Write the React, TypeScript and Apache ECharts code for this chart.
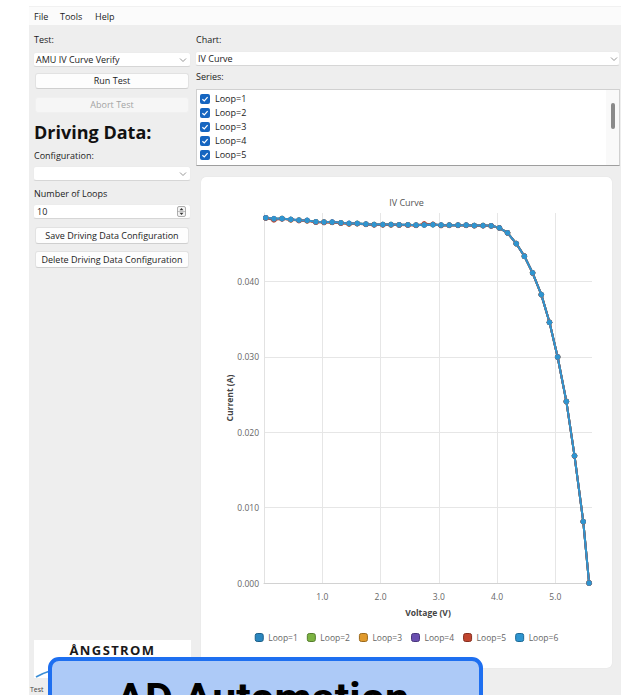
import React, { useEffect, useRef } from "react";
import * as echarts from "echarts";

// ---------- data ----------
const seriesNames = ["Loop=1", "Loop=2", "Loop=3", "Loop=4", "Loop=5", "Loop=6"];
const loopColors = ["#2a86bf", "#7cb342", "#e09a2c", "#6a4fb0", "#c0452f", "#2e95d0"];
const loopBorders = ["#1d5f88", "#557d2d", "#9c6a1c", "#4a367c", "#862f20", "#1d6a96"];
const xTicks = ["1.0", "2.0", "3.0", "4.0", "5.0"];
const yTicks = ["0.000", "0.010", "0.020", "0.030", "0.040"];

const voltage = [
  0.03, 0.17, 0.31, 0.46, 0.6, 0.74, 0.89, 1.03, 1.17, 1.32, 1.46, 1.6, 1.75, 1.89,
  2.04, 2.18, 2.32, 2.47, 2.61, 2.75, 2.9, 3.04, 3.18, 3.33, 3.47, 3.61, 3.76, 3.9,
  4.04, 4.18, 4.33, 4.47, 4.61, 4.76, 4.9, 5.04, 5.19, 5.33, 5.48, 5.58,
];

// knee / drop-off region (shared by every loop), voltages 4.04 .. 5.58
const kneeCurrent = [
  0.04713, 0.04647, 0.04505, 0.04336, 0.04116, 0.03827, 0.03459, 0.02999, 0.02409,
  0.01688, 0.00815, 0.0,
];

// flat region per loop, voltages 0.03 .. 3.90
const loop1Flat = [
  0.04848, 0.04835, 0.04834, 0.04826, 0.04813, 0.04812, 0.04795, 0.04788, 0.04790,
  0.04779, 0.04772, 0.04770, 0.04763, 0.04756, 0.04758, 0.04756, 0.04754, 0.04752,
  0.04750, 0.04752, 0.04756, 0.04750, 0.04748, 0.04750, 0.04748, 0.04745, 0.04743, 0.04741,
];
const loop2Flat = [
  0.04844, 0.04830, 0.04836, 0.04822, 0.04816, 0.04809, 0.04794, 0.04790, 0.04787,
  0.04781, 0.04770, 0.04772, 0.04761, 0.04758, 0.04756, 0.04758, 0.04752, 0.04754,
  0.04748, 0.04754, 0.04755, 0.04748, 0.04750, 0.04748, 0.04750, 0.04743, 0.04745, 0.04739,
];
const loop3Flat = [
  0.04845, 0.04826, 0.04838, 0.04820, 0.04815, 0.04810, 0.04790, 0.04791, 0.04786,
  0.04778, 0.04766, 0.04770, 0.04760, 0.04755, 0.04757, 0.04754, 0.04753, 0.04751,
  0.04749, 0.04756, 0.04758, 0.04747, 0.04749, 0.04749, 0.04747, 0.04744, 0.04744, 0.04740,
];
const loop4Flat = [
  0.04847, 0.04831, 0.04835, 0.04823, 0.04814, 0.04811, 0.04792, 0.04789, 0.04789,
  0.04780, 0.04771, 0.04771, 0.04762, 0.04757, 0.04757, 0.04757, 0.04753, 0.04753,
  0.04749, 0.04753, 0.04757, 0.04749, 0.04749, 0.04749, 0.04749, 0.04744, 0.04744, 0.04740,
];
const loop5Flat = [
  0.04843, 0.04818, 0.04833, 0.04822, 0.04808, 0.04806, 0.04786, 0.04784, 0.04785,
  0.04773, 0.04766, 0.04768, 0.04758, 0.04754, 0.04752, 0.04753, 0.04750, 0.04749,
  0.04745, 0.04766, 0.04760, 0.04744, 0.04746, 0.04746, 0.04746, 0.04742, 0.04741, 0.04738,
];
const loop6Flat = [
  0.04846, 0.04833, 0.04837, 0.04824, 0.04815, 0.04811, 0.04793, 0.04789, 0.04789,
  0.0478, 0.04771, 0.04771, 0.04762, 0.04757, 0.04757, 0.04757, 0.04753, 0.04753,
  0.04749, 0.04753, 0.04757, 0.04749, 0.04749, 0.04749, 0.04749, 0.04744, 0.04744, 0.0474,
];
const loopFlats = [loop1Flat, loop2Flat, loop3Flat, loop4Flat, loop5Flat, loop6Flat];

const FONT = "'Open Sans', 'Noto Sans', sans-serif";

function Chart() {
  const ref = useRef<HTMLDivElement>(null);
  useEffect(() => {
    if (!ref.current) return;
    const chart = echarts.init(ref.current, undefined, { renderer: "svg" });
    const isTick = (v: number, step: number) => Math.abs(v / step - Math.round(v / step)) < 1e-6;
    chart.setOption({
      animation: false,
      color: loopColors,
      textStyle: { fontFamily: FONT },
      title: {
        text: "IV Curve",
        left: "center",
        top: 16,
        textStyle: { fontSize: 9, fontWeight: "normal", color: "#555", fontFamily: FONT },
      },
      grid: { left: 63, right: 20, top: 36, bottom: 85 },
      legend: {
        data: seriesNames.map((n, k) => ({
          name: n,
          itemStyle: { color: loopColors[k], borderColor: loopBorders[k], borderWidth: 1 },
        })),
        bottom: 21,
        left: "center",
        icon: "roundRect",
        itemWidth: 8,
        itemHeight: 8,
        itemGap: 9,
        textStyle: { fontSize: 8.5, color: "#666", fontFamily: FONT },
      },
      xAxis: {
        type: "value",
        min: 0,
        max: 5.63,
        interval: 1,
        name: "Voltage (V)",
        nameLocation: "middle",
        nameGap: 25,
        nameMoveOverlap: false,
        nameTextStyle: { fontWeight: "bold", fontSize: 8.5, color: "#444", fontFamily: FONT },
        axisLine: { show: true, lineStyle: { color: "#d2d2d2" } },
        axisTick: { show: false },
        axisLabel: {
          color: "#666",
          fontSize: 8.5,
          margin: 9,
          fontFamily: FONT,
          formatter: (v: number) => {
            if (!isTick(v, 1)) return "";
            const s = v.toFixed(1);
            return xTicks.includes(s) ? s : "";
          },
        },
        splitLine: { show: true, showMaxLine: false, lineStyle: { color: "#e6e6e6" } },
      },
      yAxis: {
        type: "value",
        min: 0,
        max: 0.0491,
        interval: 0.01,
        name: "Current (A)",
        nameLocation: "middle",
        nameGap: 30,
        nameMoveOverlap: false,
        nameTextStyle: { fontWeight: "bold", fontSize: 8.5, color: "#444", fontFamily: FONT },
        axisLine: { show: true, lineStyle: { color: "#e2e2e2" } },
        axisTick: { show: false },
        axisLabel: {
          color: "#666",
          fontSize: 8.5,
          margin: 5,
          fontFamily: FONT,
          formatter: (v: number) => {
            if (!isTick(v, 0.01)) return "";
            const s = v.toFixed(3);
            return yTicks.includes(s) ? s : "";
          },
        },
        splitLine: { show: true, showMaxLine: false, lineStyle: { color: "#e6e6e6" } },
      },
      series: seriesNames.map((name, k) => {
        const cur = loopFlats[k].concat(kneeCurrent);
        return {
          name,
          type: "line",
          symbol: "circle",
          symbolSize: 5.5,
          showSymbol: true,
          lineStyle: { width: 2, color: loopColors[k] },
          itemStyle: { color: loopColors[k] },
          data: voltage.map((v, i) => [v, cur[i]]),
        };
      }),
    });
    return () => chart.dispose();
  }, []);
  return (
    <div
      ref={ref}
      style={{ position: "absolute", left: 201, top: 177, width: 411, height: 491 }}
    />
  );
}

type TP = { x: number; y: number; h?: number; size?: number; color?: string; bold?: boolean; children: React.ReactNode; w?: number; center?: boolean };
function T({ x, y, h = 12, size = 9, color = "#1b1b1b", bold, children, w, center }: TP) {
  return (
    <div
      style={{
        position: "absolute",
        left: x,
        top: y - h / 2,
        height: h,
        lineHeight: h + "px",
        width: w,
        textAlign: center ? "center" : "left",
        fontSize: size,
        fontWeight: bold ? 700 : 400,
        color,
        whiteSpace: "nowrap",
        fontFamily: FONT,
      }}
    >
      {children}
    </div>
  );
}

function Box({ x, y, w, h, bg = "#fff", border = "1px solid #e4e4e4", radius = 3, extra = {} as React.CSSProperties, children = null as React.ReactNode }) {
  return (
    <div
      style={{
        position: "absolute",
        left: x,
        top: y,
        width: w,
        height: h,
        background: bg,
        border,
        borderRadius: radius,
        boxSizing: "border-box",
        ...extra,
      }}
    >
      {children}
    </div>
  );
}

function Chevron({ x, y }: { x: number; y: number }) {
  return (
    <svg style={{ position: "absolute", left: x, top: y }} width={8} height={6}>
      <polyline points="1,1.5 4,4.5 7,1.5" fill="none" stroke="#8a8a8a" strokeWidth={0.9} />
    </svg>
  );
}

function Check({ x, y }: { x: number; y: number }) {
  return (
    <svg style={{ position: "absolute", left: x, top: y }} width={10} height={10}>
      <rect x={0} y={0} width={10} height={10} rx={2} fill="#1565c0" />
      <polyline points="2.4,5.2 4.3,7 7.6,3.2" fill="none" stroke="#fff" strokeWidth={1.2} />
    </svg>
  );
}

function Button({ x, y, w, h, label, disabled }: { x: number; y: number; w: number; h: number; label: string; disabled?: boolean }) {
  return (
    <>
      <Box
        x={x}
        y={y}
        w={w}
        h={h}
        bg={disabled ? "#f6f6f6" : "#fdfdfd"}
        border={disabled ? "1px solid #f0f0f0" : "1px solid #e2e2e2"}
        extra={disabled ? {} : { borderBottom: "1px solid #cfcfcf" }}
      />
      <T x={x} y={y + h / 2} w={w} center color={disabled ? "#a3a3a3" : "#1b1b1b"}>
        {label}
      </T>
    </>
  );
}

export default function App() {
  const loops = ["Loop=1", "Loop=2", "Loop=3", "Loop=4", "Loop=5", "Loop=6"];
  return (
    <div
      style={{
        position: "fixed",
        left: 0,
        top: 0,
        width: 628,
        height: 695,
        overflow: "hidden",
        background: "#fff",
        fontFamily: FONT,
      }}
    >
      {/* app window */}
      <div style={{ position: "absolute", left: 29, top: 25, width: 592, height: 680, background: "#eeeeee" }} />
      <div style={{ position: "absolute", left: 29, top: 6, width: 592, height: 19, background: "#fbfbfb", borderTop: "1px solid #f1f1f1", boxSizing: "border-box" }} />
      <T x={34} y={17}>File</T>
      <T x={60} y={17}>Tools</T>
      <T x={95} y={17}>Help</T>

      {/* left panel */}
      <T x={34} y={40}>Test:</T>
      <Box x={33} y={52} w={158} h={15} border="1px solid #ececec" extra={{ borderBottom: "1px solid #d6d6d6" }} />
      <T x={36} y={59.5}>AMU IV Curve Verify</T>
      <Chevron x={179} y={57} />

      <Button x={35} y={73} w={154} h={16} label="Run Test" />
      <Button x={35} y={97} w={154} h={16} label="Abort Test" disabled />

      <T x={34} y={132} h={24} size={18} bold color="#111">Driving Data:</T>
      <T x={34} y={156}>Configuration:</T>
      <Box x={33} y={166} w={158} h={15} border="1px solid #ececec" extra={{ borderBottom: "1px solid #d6d6d6" }} />
      <Chevron x={179} y={171} />

      <T x={34} y={194}>Number of Loops</T>
      <Box x={33} y={204} w={158} h={15} border="1px solid #ececec" extra={{ borderBottom: "1px solid #d6d6d6" }} />
      <T x={37} y={212}>10</T>
      <svg style={{ position: "absolute", left: 177, top: 206 }} width={10} height={12}>
        <rect x={0.5} y={0.5} width={8} height={10} rx={1.5} fill="#f4f4f4" stroke="#9a9a9a" strokeWidth={0.8} />
        <line x1={0.5} y1={5.5} x2={8.5} y2={5.5} stroke="#9a9a9a" strokeWidth={0.6} />
        <polygon points="2.5,4.2 4.5,2 6.5,4.2" fill="#333" />
        <polygon points="2.5,6.8 4.5,9 6.5,6.8" fill="#333" />
      </svg>

      <Button x={35} y={227} w={154} h={17} label="Save Driving Data Configuration" />
      <Button x={35} y={251} w={154} h={17} label="Delete Driving Data Configuration" />

      {/* logo */}
      <Box x={34} y={640} w={157} h={38} border="none" radius={0} />
      <T x={34} y={650} w={157} h={16} center size={13} bold color="#1a1a1a">
        <span style={{ letterSpacing: 1.4 }}>ÅNGSTROM</span>
      </T>
      <svg style={{ position: "absolute", left: 34, top: 662 }} width={40} height={18}>
        <path d="M2 15 Q 14 8 36 4" fill="none" stroke="#3b8ed6" strokeWidth={1.6} />
      </svg>
      <T x={30} y={690} size={7} color="#444">Test</T>

      {/* right panel */}
      <T x={196} y={40}>Chart:</T>
      <Box x={195} y={51} w={425} h={15} border="1px solid #ececec" extra={{ borderBottom: "1px solid #d6d6d6" }} />
      <T x={198} y={58.5}>IV Curve</T>
      <Chevron x={610} y={56} />
      <T x={196} y={77}>Series:</T>

      <Box x={196} y={89} w={424} h={77} radius={0} border="1px solid #d0d0d0" extra={{ overflow: "hidden", borderBottom: "1px solid #9e9e9e" }}>
        {loops.map((l, i) => (
          <React.Fragment key={l}>
            <Check x={3} y={3.5 + i * 14.2} />
            <div
              style={{
                position: "absolute",
                left: 18,
                top: 2.5 + i * 14.2,
                height: 12,
                lineHeight: "12px",
                fontSize: 9,
                color: "#1b1b1b",
                fontFamily: FONT,
              }}
            >
              {l}
            </div>
          </React.Fragment>
        ))}
        <div style={{ position: "absolute", left: 409, top: 0, width: 14, height: 76, background: "#f9f9f9" }} />
        <div style={{ position: "absolute", left: 414, top: 13, width: 3.5, height: 26, background: "#8a8a8a", borderRadius: 2 }} />
      </Box>

      {/* chart card */}
      <Box x={201} y={177} w={411} h={491} radius={5} border="none" extra={{ boxShadow: "0 0 1px rgba(0,0,0,0.12)" }} />
      <Chart />

      {/* overlay banner */}
      <div
        style={{
          position: "absolute",
          left: 48,
          top: 657,
          width: 435,
          height: 80,
          background: "#adcaf7",
          border: "4px solid #1e6ff0",
          borderRadius: 11,
          boxSizing: "border-box",
        }}
      />
      <div
        style={{
          position: "absolute",
          left: 116,
          top: 673,
          fontSize: 43,
          lineHeight: "50px",
          fontWeight: 700,
          color: "#000",
          fontFamily: "Roboto, 'Open Sans', sans-serif",
          whiteSpace: "nowrap",
        }}
      >
        AD Automation
      </div>
    </div>
  );
}
